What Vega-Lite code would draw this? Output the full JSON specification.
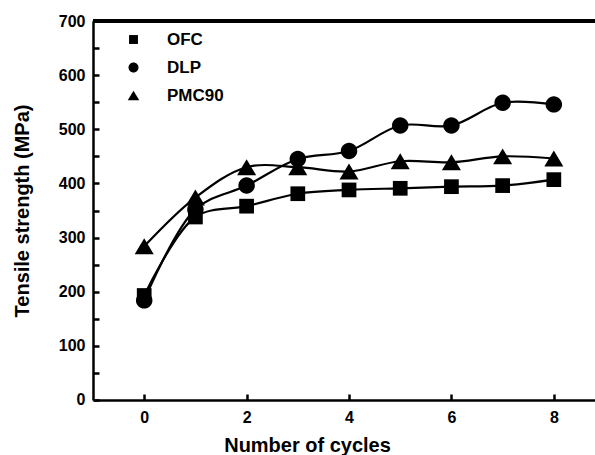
{
  "$schema": "https://vega.github.io/schema/vega-lite/v6.json",
  "width": 501.8,
  "height": 379,
  "autosize": {"type": "none"},
  "padding": {"left": 93, "top": 21, "right": 0, "bottom": 55},
  "background": "white",
  "config": {
    "view": {"stroke": null},
    "font": "Liberation Sans",
    "axis": {
      "domainColor": "black", "domainWidth": 2.5, "tickColor": "black", "tickWidth": 2.5,
      "labelFont": "Liberation Sans", "labelFontWeight": "bold", "labelColor": "black", "labelFontSize": 16,
      "titleFont": "Liberation Sans", "titleFontWeight": "bold", "titleColor": "black", "titleFontSize": 20,
      "grid": false
    },
    "legend": {"labelFont": "Liberation Sans", "labelFontWeight": "bold", "labelFontSize": 17, "labelColor": "black"}
  },
  "data": {
    "values": [
      {"cycles": 0, "strength": 193, "series": "OFC"},
      {"cycles": 1, "strength": 338, "series": "OFC"},
      {"cycles": 2, "strength": 358, "series": "OFC"},
      {"cycles": 3, "strength": 381, "series": "OFC"},
      {"cycles": 4, "strength": 388, "series": "OFC"},
      {"cycles": 5, "strength": 391, "series": "OFC"},
      {"cycles": 6, "strength": 394, "series": "OFC"},
      {"cycles": 7, "strength": 396, "series": "OFC"},
      {"cycles": 8, "strength": 407, "series": "OFC"},
      {"cycles": 0, "strength": 184, "series": "DLP"},
      {"cycles": 1, "strength": 352, "series": "DLP"},
      {"cycles": 2, "strength": 396, "series": "DLP"},
      {"cycles": 3, "strength": 445, "series": "DLP"},
      {"cycles": 4, "strength": 460, "series": "DLP"},
      {"cycles": 5, "strength": 507, "series": "DLP"},
      {"cycles": 6, "strength": 507, "series": "DLP"},
      {"cycles": 7, "strength": 549, "series": "DLP"},
      {"cycles": 8, "strength": 546, "series": "DLP"},
      {"cycles": 0, "strength": 284, "series": "PMC90"},
      {"cycles": 1, "strength": 374, "series": "PMC90"},
      {"cycles": 2, "strength": 430, "series": "PMC90"},
      {"cycles": 3, "strength": 430, "series": "PMC90"},
      {"cycles": 4, "strength": 422, "series": "PMC90"},
      {"cycles": 5, "strength": 441, "series": "PMC90"},
      {"cycles": 6, "strength": 439, "series": "PMC90"},
      {"cycles": 7, "strength": 450, "series": "PMC90"},
      {"cycles": 8, "strength": 446, "series": "PMC90"}
    ]
  },
  "encoding": {
    "x": {
      "field": "cycles", "type": "quantitative",
      "scale": {"domain": [-1, 8.8], "nice": false, "zero": false},
      "axis": {
        "title": "Number of cycles", "values": [0, 2, 4, 6, 8], "tickSize": -6, "labelPadding": 16,
        "titleX": 214, "titleAlign": "center", "titlePadding": 10, "labelFlush": false
      }
    },
    "y": {
      "field": "strength", "type": "quantitative",
      "scale": {"domain": [0, 700], "nice": false},
      "axis": {
        "title": "Tensile strength (MPa)",
        "values": [0, 50, 100, 150, 200, 250, 300, 350, 400, 450, 500, 550, 600, 650, 700],
        "labelExpr": "datum.value % 100 === 0 ? datum.label : ''",
        "tickSize": -6, "labelPadding": 14, "titlePadding": 26, "labelFlush": false
      }
    }
  },
  "layer": [
    {
      "mark": {"type": "rule", "color": "black", "strokeWidth": 2.5},
      "encoding": {"y": {"datum": 700}, "x": null}
    },
    {
      "mark": {"type": "line", "color": "black", "strokeWidth": 2.2, "interpolate": "catmull-rom"},
      "encoding": {"detail": {"field": "series"}}
    },
    {
      "mark": {"type": "point", "filled": true, "color": "black", "opacity": 1, "size": 300, "strokeWidth": 0},
      "encoding": {
        "shape": {
          "field": "series", "type": "nominal",
          "scale": {
            "domain": ["OFC", "DLP", "PMC90"],
            "range": [
              "M-0.85,-0.85H0.85V0.85H-0.85Z",
              "M-0.95,0A0.95,0.95 0 1,0 0.95,0A0.95,0.95 0 1,0 -0.95,0Z",
              "M0,-0.92L1.1,0.92H-1.1Z"
            ]
          },
          "legend": {
            "title": null, "orient": "none", "legendX": 32, "legendY": 10, "padding": 0,
            "symbolSize": 110, "symbolFillColor": "black", "symbolStrokeWidth": 0,
            "labelOffset": 25, "rowPadding": 10,
            "encode": {
              "symbols": {
                "fill": {"value": "black"},
                "strokeWidth": {"value": 0}
              }
            }
          }
        }
      }
    }
  ]
}
